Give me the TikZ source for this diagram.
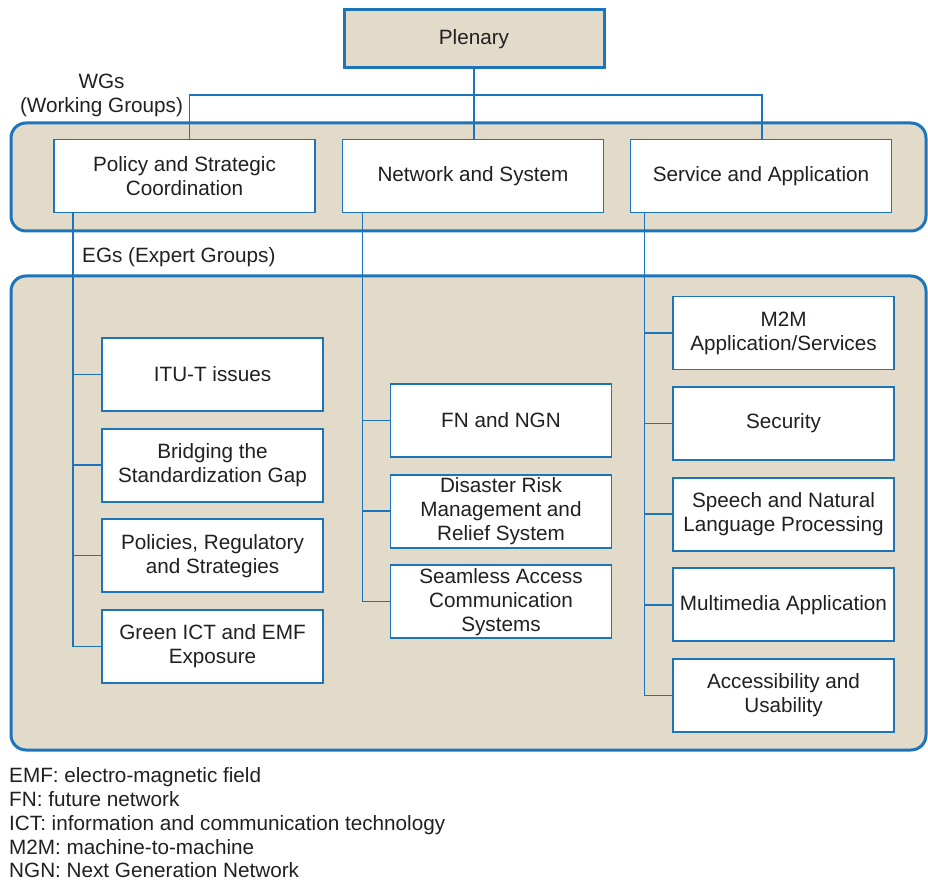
\documentclass[tikz,border=0pt]{standalone}
\usepackage{fontspec}
\setmainfont{Liberation Sans}
\usetikzlibrary{positioning}

\definecolor{itublue}{HTML}{1C74BB}
\definecolor{sand}{HTML}{E2DBC9}
\definecolor{ink}{HTML}{231F20}

\begin{document}
\begin{tikzpicture}[x=1pt, y=-1pt,
		every node/.style={font=\fontsize{20.7}{24}\selectfont, text=ink},
		panel/.style={draw=itublue, fill=sand, line width=3pt, rounded corners=15pt},
		topbox/.style={draw=itublue, fill=sand, line width=3pt, minimum width=260pt, minimum height=58pt},
		wgbox/.style={draw=itublue, fill=white, line width=1.8pt, align=center, minimum width=261pt, minimum height=73pt, inner sep=0pt},
		egbox/.style={draw=itublue, fill=white, line width=1.8pt, align=center, minimum width=221pt, minimum height=73pt, inner sep=0pt},
		link/.style={draw=itublue, line width=1.5pt},
		node distance=15.8pt]
		\useasboundingbox (0,0) rectangle (928,882);

		% grey panels behind the groups
		\draw[panel] (11,123) rectangle (926,231);
		\draw[panel] (11,276) rectangle (926,750);

		\node (plenary) [topbox] at (474,39) {Plenary};

		\node (wglabel) [align=center, inner sep=0pt] at (101.5,95.5) {WGs\\(Working Groups)};
		\node (eglabel) [anchor=base west, inner sep=0pt] at (82,263) {EGs (Expert Groups)};

		\node (policy) [wgbox] at (184.5,176) {Policy and Strategic\\Coordination};
		\node (network) [wgbox] at (473,176) {Network and System};
		\node (service) [wgbox] at (761,176) {Service and Application};

		\node (itu) [egbox] at (212.5,374.5) {ITU-T issues};
		\node (bridge) [egbox, below=of itu] {Bridging the\\Standardization Gap};
		\node (policies) [egbox, below=of bridge] {Policies, Regulatory\\and Strategies};
		\node (green) [egbox, below=of policies] {Green ICT and EMF\\Exposure};

		\node (fnngn) [egbox] at (501,420.5) {FN and NGN};
		\node (disaster) [egbox, below=of fnngn] {Disaster Risk\\Management and\\Relief System};
		\node (seamless) [egbox, below=of disaster] {Seamless Access\\Communication\\Systems};

		\node (mtwom) [egbox] at (783.5,333) {M2M\\Application/Services};
		\node (security) [egbox, below=of mtwom] {Security};
		\node (speech) [egbox, below=of security] {Speech and Natural\\Language Processing};
		\node (multimedia) [egbox, below=of speech] {Multimedia Application};
		\node (access) [egbox, below=of multimedia] {Accessibility and\\Usability};

		% plenary to working groups
		\coordinate (bus) at (474,95);
		\draw[link] (plenary.south) -- (plenary.south |- network.north);
		\draw[link] ([xshift=5pt]policy.north) |- (bus) -| ([xshift=1pt]service.north);

		% working groups to expert groups
		\coordinate (trunkA) at ([xshift=20pt]policy.south west);
		\coordinate (trunkB) at ([xshift=21pt]network.south west);
		\coordinate (trunkC) at ([xshift=15pt]service.south west);
		\draw[link] (trunkA) |- (green.west);
		\draw[link] (trunkA |- itu.west) -- (itu.west);
		\draw[link] (trunkA |- bridge.west) -- (bridge.west);
		\draw[link] (trunkA |- policies.west) -- (policies.west);
		\draw[link] (trunkB) |- (seamless.west);
		\draw[link] (trunkB |- fnngn.west) -- (fnngn.west);
		\draw[link] (trunkB |- disaster.west) -- (disaster.west);
		\draw[link] (trunkC) |- (access.west);
		\draw[link] (trunkC |- mtwom.west) -- (mtwom.west);
		\draw[link] (trunkC |- security.west) -- (security.west);
		\draw[link] (trunkC |- speech.west) -- (speech.west);
		\draw[link] (trunkC |- multimedia.west) -- (multimedia.west);

		% abbreviations
		\node (legemf) [anchor=base west, inner sep=0pt] at (9,782) {EMF: electro-magnetic field};
		\node (legfn) [anchor=base west, inner sep=0pt] at (9,806) {FN: future network};
		\node (legict) [anchor=base west, inner sep=0pt] at (9,830) {ICT: information and communication technology};
		\node (legmtwom) [anchor=base west, inner sep=0pt] at (9,854) {M2M: machine-to-machine};
		\node (legngn) [anchor=base west, inner sep=0pt] at (9,877.5) {NGN: Next Generation Network};
\end{tikzpicture}
\end{document}
